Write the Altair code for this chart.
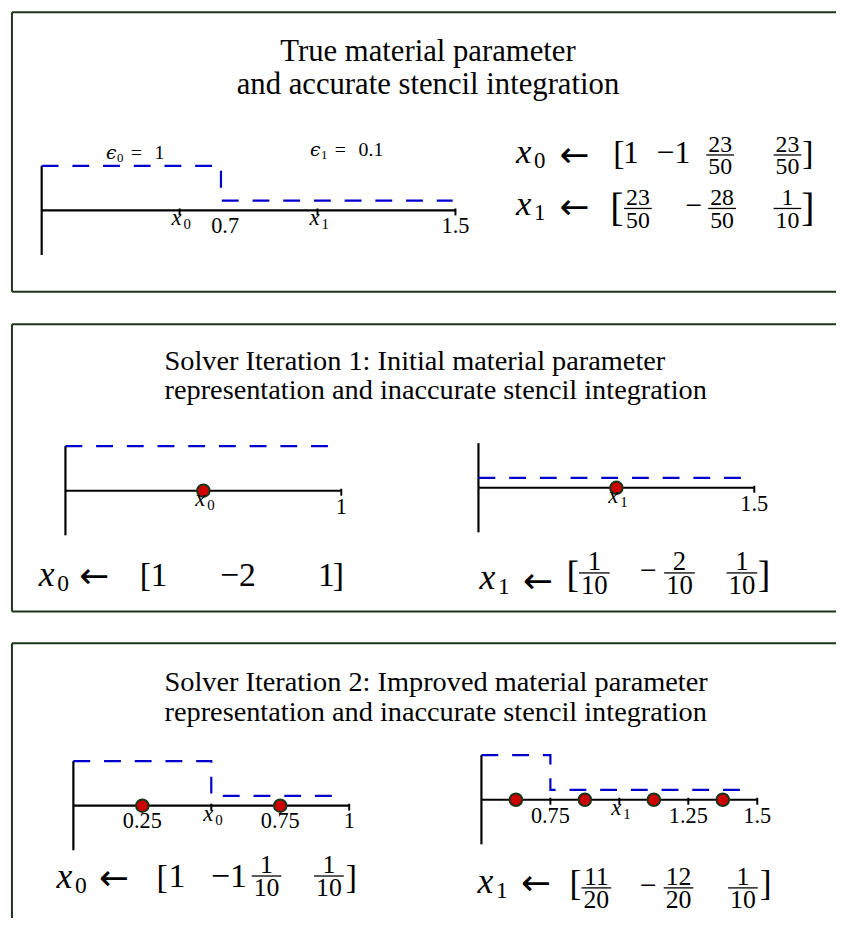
import altair as alt
import pandas as pd

# ---------------- data ----------------
titles = [
    ["True material parameter", "and accurate stencil integration"],
    ["Solver Iteration 1: Initial material parameter",
     "representation and inaccurate stencil integration"],
    ["Solver Iteration 2: Improved material parameter",
     "representation and inaccurate stencil integration"],
]
eps_names = ["ϵ", "ϵ"]
eps_subs = ["0", "1"]
eps_values = ["1", "0.1"]

panel_lo = [0.0, 0.0, 0.5, 0.0, 0.5]
panel_hi = [1.5, 1.0, 1.5, 1.0, 1.5]
panel_breaks = [[0.65], [], [], [0.5], [0.75]]
panel_levels = [[1, 0.1], [1], [0.1], [1, 0.1], [1, 0.1]]
panel_dash_end = [1.49, 0.985, 1.485, 0.975, 1.475]
panel_points = [[], [0.5], [1.0], [0.25, 0.75], [0.625, 0.875, 1.125, 1.375]]
panel_ticks = [[0.5, 1.0, 1.5], [1.0], [1.5], [0.5, 1.0], [0.75, 1.0, 1.25, 1.5]]
panel_label_pos = [[0.5, 0.665, 1.0, 1.5], [0.5, 1.0], [1.0, 1.5],
                   [0.25, 0.5, 0.75, 1.0], [0.75, 1.0, 1.25, 1.5]]
panel_label_txt = [["x₀", "0.7", "x₁", "1.5"], ["x₀", "1"], ["x₁", "1.5"],
                   ["0.25", "x₀", "0.75", "1"], ["0.75", "x₁", "1.25", "1.5"]]

matrix_var = ["x₀", "x₁", "x₀", "x₁", "x₀", "x₁"]
matrix_rows = [
    ["1", "−1 23/50", "23/50"],
    ["23/50", "−28/50", "1/10"],
    ["1", "−2", "1"],
    ["1/10", "−2/10", "1/10"],
    ["1", "−1 1/10", "1/10"],
    ["11/20", "−12/20", "1/10"],
]

# ---------------- layout (style only) ----------------
UNIT = 278.5
panel_origin = [(42, 208), (66, 491), (483, 488), (74, 809), (486, 803)]
BOX_COLOR = "#1c331c"
boxes = [(12, 8, 290), (12, 323, 613), (12, 645, 930)]
title_layout = [("center", 432, [57, 90], 31), ("left", 166, [369, 398], 28.6),
                ("left", 166, [693, 723], 28.6)]
eps_layout = [(107, 156), (313, 153)]

mat_layout = [
    dict(vx=521, vb=160, vfs=35, ax=580, am=153, bo=619, bc=810, bb=161, bfs=34,
         px=[629, 663, 727, 795], mb=160, mfs=32, bar=152, ffs=24),
    dict(vx=521, vb=213, vfs=35, ax=580, am=206, bo=616, bc=809, bb=219, bfs=40,
         px=[644, 692, 729, 795], mb=213, mfs=30, bar=206, ffs=24),
    dict(vx=39, vb=587, vfs=36, ax=95, am=578, bo=141, bc=336, bb=587, bfs=34,
         px=[152, 222, 321], mb=587, mfs=34, bar=579, ffs=26),
    dict(vx=484, vb=590, vfs=36, ax=543, am=583, bo=572, bc=765, bb=588, bfs=38,
         px=[600, 646, 686, 749], mb=581, mfs=30, bar=574, ffs=27),
    dict(vx=57, vb=892, vfs=36, ax=115, am=883, bo=158, bc=349, bb=892, bfs=34,
         px=[170, 213, 269, 332], mb=891, mfs=34, bar=880, ffs=26),
    dict(vx=482, vb=897, vfs=36, ax=541, am=888, bo=575, bc=767, bb=899, bfs=36,
         px=[602, 646, 685, 750], mb=899, mfs=30, bar=892, ffs=26),
]

SUB = {"₀": "0", "₁": "1"}


def px(p, v):
    return panel_origin[p][0] + (v - panel_lo[p]) * UNIT


def level_y(p, eps):
    return panel_origin[p][1] - (6 + 39 * eps)


rules, lines, points, texts = [], [], [], []


def rule(x, y, x2, y2, w=2.0, color="black"):
    rules.append(dict(x=x, y=y, x2=x2, y2=y2, w=w, c=color))


def text(x, y, t, size, italic=False, align="left", font="Liberation Serif"):
    texts.append(dict(x=x, y=y, t=t, s=size, it=italic, al=align, f=font))


# boxes
for (bx, top, bottom) in boxes:
    rule(bx, top, 844, top, 2, BOX_COLOR)
    rule(bx, top, bx, bottom, 2, BOX_COLOR)
    rule(bx, bottom, 844, bottom, 2, BOX_COLOR)

# titles
for lines_txt, (al, tx, bases, fs) in zip(titles, title_layout):
    for t, b in zip(lines_txt, bases):
        text(tx, b, t, fs, align=al)

# panels
for p in range(5):
    ox, oy = panel_origin[p]
    rule(ox, oy, px(p, panel_hi[p]), oy, 2.2)
    rule(ox, oy - 45, ox, oy + 45, 2.2)
    for t in panel_ticks[p]:
        rule(px(p, t), oy - 2, px(p, t), oy + 5, 2.0)
    # dashed material parameter step
    lv = panel_levels[p]
    seq = [(px(p, panel_lo[p]), level_y(p, lv[0]))]
    for i, b in enumerate(panel_breaks[p]):
        seq.append((px(p, b), level_y(p, lv[i])))
        seq.append((px(p, b), level_y(p, lv[i + 1])))
    seq.append((px(p, panel_dash_end[p]), level_y(p, lv[-1])))
    for k, (x, y) in enumerate(seq):
        lines.append(dict(x=x, y=y, g=p, o=k))
    for q in panel_points[p]:
        points.append(dict(x=px(p, q), y=oy))
    for pos, lab in zip(panel_label_pos[p], panel_label_txt[p]):
        xx = px(p, pos)
        if lab.startswith("x"):
            text(xx - 3, oy + 15, "x", 23, italic=True, align="center")
            text(xx + 4, oy + 19, SUB[lab[1]], 15)
        else:
            text(xx, oy + 23, lab, 22.5, align="center")

# epsilon labels
for name, sub, val, (ex, eb) in zip(eps_names, eps_subs, eps_values, eps_layout):
    text(ex, eb, name, 19, italic=True, font="DejaVu Serif")
    text(ex + 11, eb + 3, sub, 13)
    text(ex + 25, eb, "=", 20)
    text(ex + 49, eb, val, 20)

# matrices
for var, row, L in zip(matrix_var, matrix_rows, mat_layout):
    text(L["vx"], L["vb"], "x", L["vfs"], italic=True)
    text(L["vx"] + 0.52 * L["vfs"], L["vb"] + 5, SUB[var[1]], 0.66 * L["vfs"])
    text(L["ax"], L["am"] + 0.3 * 36, "←", 36, align="center", font="DejaVu Sans")
    text(L["bo"], L["bb"], "[", L["bfs"])
    text(L["bc"], L["bb"], "]", L["bfs"])
    pieces = []
    for e in row:
        if " " in e:
            w, f = e.split(" ")
            pieces += [("w", w), ("f", f)]
        elif "/" in e:
            if e.startswith("−"):
                pieces += [("w", "−"), ("f", e[1:])]
            else:
                pieces.append(("f", e))
        else:
            pieces.append(("w", e))
    for (kind, val), x in zip(pieces, L["px"]):
        if kind == "w":
            text(x, L["mb"], val, L["mfs"])
        else:
            num, den = val.split("/")
            fs = L["ffs"]
            half = (max(len(num), len(den)) * 0.5 * fs + 4) / 2
            rule(x - half, L["bar"], x + half, L["bar"], 1.3)
            text(x, L["bar"] - 3, num, fs, align="center")
            text(x, L["bar"] + 3 + 0.68 * fs, den, fs, align="center")

# ---------------- chart ----------------
xs = alt.Scale(domain=[8, 844], nice=False, zero=False)
ys = alt.Scale(domain=[8, 918], nice=False, zero=False, reverse=True)

rules_df = pd.DataFrame(rules)
rule_layer = alt.Chart(rules_df).mark_rule().encode(
    x=alt.X("x:Q", scale=xs, axis=None),
    y=alt.Y("y:Q", scale=ys, axis=None),
    x2="x2:Q", y2="y2:Q",
    strokeWidth=alt.StrokeWidth("w:Q", scale=None),
    color=alt.Color("c:N", scale=None),
)

line_layer = alt.Chart(pd.DataFrame(lines)).mark_line(
    color="#0000cc", strokeWidth=2.2, strokeDash=[17, 14]
).encode(
    x=alt.X("x:Q", scale=xs, axis=None),
    y=alt.Y("y:Q", scale=ys, axis=None),
    detail="g:N", order="o:Q",
)

point_layer = alt.Chart(pd.DataFrame(points)).mark_point(
    filled=True, fill="#cc0000", stroke="#1c331c", strokeWidth=2, size=160,
    shape="circle", opacity=1
).encode(
    x=alt.X("x:Q", scale=xs, axis=None),
    y=alt.Y("y:Q", scale=ys, axis=None),
)

tdf = pd.DataFrame(texts)
text_layers = []
for (it, al, f), g in tdf.groupby(["it", "al", "f"]):
    text_layers.append(
        alt.Chart(g).mark_text(
            align=al, baseline="alphabetic", font=f,
            fontStyle="italic" if it else "normal", color="black"
        ).encode(
            x=alt.X("x:Q", scale=xs, axis=None),
            y=alt.Y("y:Q", scale=ys, axis=None),
            text="t:N",
            size=alt.Size("s:Q", scale=None),
        )
    )

chart = alt.layer(rule_layer, line_layer, point_layer, *text_layers).properties(
    width=836, height=910, padding=0, autosize="none"
).configure_view(stroke=None)

chart.save("out.html", embed_options={"renderer": "svg", "actions": False})
